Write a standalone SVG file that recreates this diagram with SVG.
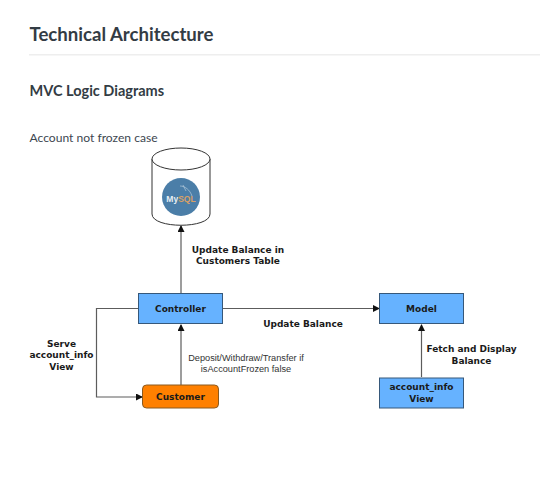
<svg xmlns="http://www.w3.org/2000/svg" width="540" height="486" viewBox="0 0 540 486">
<style>
.h{font-family:Lato,"Open Sans",sans-serif;fill:#333c44;font-weight:700}
.b{font-family:"DejaVu Sans",sans-serif;font-weight:700;font-size:9px;fill:#1a1a1a;text-anchor:middle}
.e{fill:none;stroke:#5c5c5c;stroke-width:1.2}
.n{fill:#66b2ff;stroke:#36587a;stroke-width:1}
</style>
<defs><marker id="a" markerWidth="7" markerHeight="7" refX="6" refY="3.5" orient="auto" markerUnits="userSpaceOnUse"><path d="M0 0L7 3.5L0 7z" fill="#111"/></marker></defs>
<rect width="540" height="486" fill="#fff"/>
<text x="29.500" y="41" class="h" font-size="18.600">Technical Architecture</text>
<rect x="29" y="54" width="511" height="1.500" fill="#eee"/>
<text x="29.500" y="95.500" class="h" font-size="14.500">MVC Logic Diagrams</text>
<text x="29.500" y="141.500" font-family="Lato,sans-serif" font-size="12.100" fill="#3d4650">Account not frozen case</text>
<g id="connectors">
<path class="e" d="M181 294V226" marker-end="url(#a)"/>
<path class="e" d="M222.500 308.500H379" marker-end="url(#a)"/>
<path class="e" d="M181 385V325" marker-end="url(#a)"/>
<path class="e" d="M138.500 308.500H96.500V397H142" marker-end="url(#a)"/>
<path class="e" d="M421.500 377V325" marker-end="url(#a)"/>
</g>
<g id="edge-labels">
<text class="b" x="238" y="252.500">Update Balance in</text>
<text class="b" x="238" y="263.500">Customers Table</text>
<text class="b" x="303" y="327">Update Balance</text>
<text class="b" x="61.500" y="347">Serve</text>
<text class="b" x="61.500" y="358">account_info</text>
<text class="b" x="61.500" y="369.500">View</text>
<text x="246" y="360.500" font-family="Liberation Sans,sans-serif" font-size="9.200" fill="#333" text-anchor="middle">Deposit/Withdraw/Transfer if</text>
<text x="246" y="372" font-family="Liberation Sans,sans-serif" font-size="9.200" fill="#333" text-anchor="middle">isAccountFrozen false</text>
<text class="b" x="471.500" y="352">Fetch and Display</text>
<text class="b" x="471.500" y="363.500">Balance</text>
</g>
<g id="mysql">
<path d="M152 159V214C152 229 210 229 210 214V159" fill="#fff" stroke="#333" stroke-width="1"/>
<ellipse cx="181" cy="159" rx="29" ry="11" fill="#fff" stroke="#333" stroke-width="1"/>
<circle cx="181" cy="197" r="19" fill="#4b7ea8"/>
<text x="181" y="202" font-family="Liberation Sans,sans-serif" font-weight="700" font-size="8.500" text-anchor="middle" fill="#e8eef3">My<tspan fill="#d9a066">SQL</tspan></text>
<path d="M180 186C185 186 190 190 192 196M183 185L186 191" fill="none" stroke="#c5d5e2" stroke-width=".6"/>
</g>
<g id="controller"><rect class="n" x="138.500" y="293.500" width="84" height="30"/><text class="b" x="180.500" y="311.500">Controller</text></g>
<g id="model"><rect class="n" x="379.500" y="293.500" width="84" height="30"/><text class="b" x="421.500" y="311.500">Model</text></g>
<g id="view"><rect class="n" x="379.500" y="378" width="84" height="30"/><text class="b" x="421.500" y="390">account_info</text><text class="b" x="421.500" y="402">View</text></g>
<g id="customer"><rect x="142.500" y="385" width="76" height="23" rx="4" fill="#ff8000" stroke="#8a5a20"/><text class="b" x="180.500" y="399.500">Customer</text></g>
</svg>
